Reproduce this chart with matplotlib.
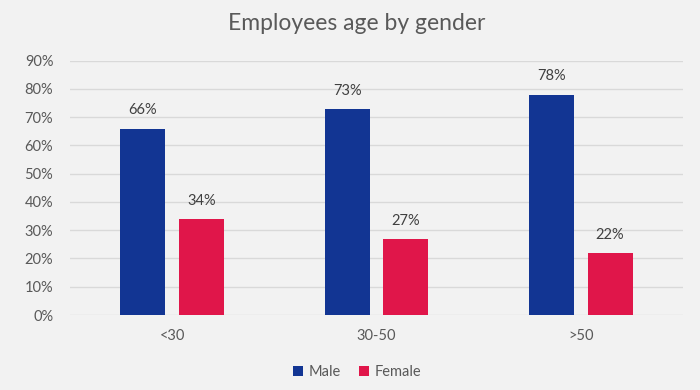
import matplotlib
matplotlib.use("Agg")
import matplotlib.pyplot as plt
import numpy as np

categories = ["<30", "30-50", ">50"]
male = [66, 73, 78]
female = [34, 27, 22]
yticks = [0, 10, 20, 30, 40, 50, 60, 70, 80, 90]

plt.rcParams['font.family'] = ['Lato', 'DejaVu Sans']
bg = "#f2f2f2"
txt = "#595959"
fig = plt.figure(figsize=(7, 3.9), dpi=100, facecolor=bg)
ax = fig.add_axes([0.1, 0.1923, 0.8757, 0.6521], facecolor=bg)

x = np.arange(len(categories))
w = 0.22
off = 0.143
b1 = ax.bar(x - off, male, w, color="#123593", label="Male", zorder=3)
b2 = ax.bar(x + off, female, w, color="#e0164a", label="Female", zorder=3)
for bars, vals in ((b1, male), (b2, female)):
    for r, v in zip(bars, vals):
        ax.annotate(f"{v}%", (r.get_x() + r.get_width() / 2, v), xytext=(0, 8),
                    textcoords="offset points", ha="center", va="bottom",
                    fontsize=10.5, color="#404040")

ax.set_xlim(-0.5, 2.5)
ax.set_ylim(0, 90)
ax.set_yticks(yticks)
ax.set_yticklabels([f"{t}%" for t in yticks])
ax.set_xticks(x)
ax.set_xticklabels(categories)
ax.tick_params(axis="both", length=0, labelsize=10.5, colors=txt)
ax.tick_params(axis="x", pad=10)
ax.tick_params(axis="y", pad=12)
ax.grid(axis="y", color="#d9d9d9", linewidth=1, zorder=0)
for s in ax.spines.values():
    s.set_visible(False)

fig.text(0.51, 0.94, "Employees age by gender", ha="center", va="center",
         fontsize=16.5, color=txt)
leg = fig.legend(loc="center", bbox_to_anchor=(0.51, 0.045), ncol=2, frameon=False,
                 fontsize=10.5, handlelength=0.7, handleheight=0.7, handletextpad=0.4,
                 columnspacing=1.2, labelcolor=txt)
fig.savefig("out.png", dpi=100, facecolor=bg)
